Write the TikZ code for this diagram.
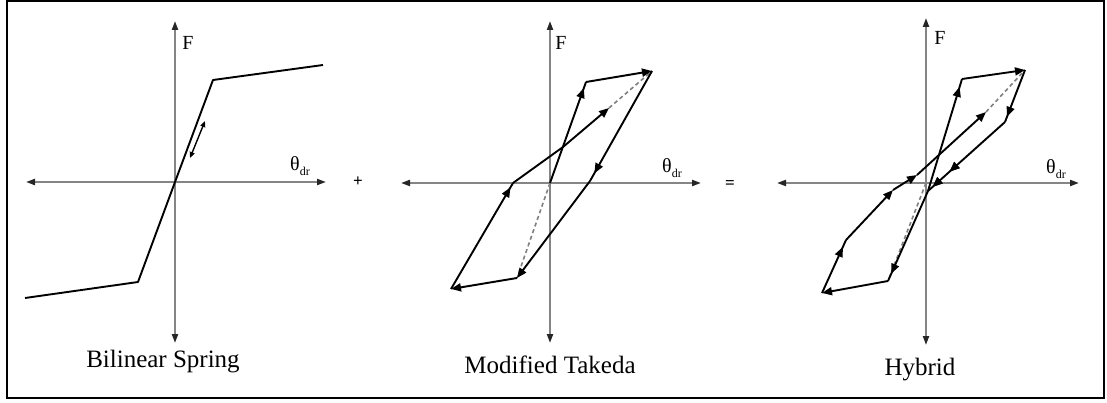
\documentclass[tikz,border=0pt]{standalone}
\usepackage{fontspec}
\setmainfont{Liberation Serif}
\usetikzlibrary{arrows.meta,decorations.markings}
\begin{document}
\begin{tikzpicture}[x=1pt,y=-1pt,
  axis/.style={draw=black!48,line width=2pt,
    {Triangle[length=9pt,width=6pt,color=black!85]}-{Triangle[length=9pt,width=6pt,color=black!85]}},
  curve/.style={draw=black,line width=1.9pt,line join=round},
  dashline/.style={draw=black!50,line width=1.6pt,dash pattern=on 4pt off 3pt},
  endtip/.style={-{Triangle[length=10pt,width=8pt]}},
  midarr/.style={postaction={decorate},decoration={markings,
    mark=at position #1 with {\arrow{Triangle[length=10pt,width=8pt]}}}},
  flab/.style={font=\fontsize{20}{20}\selectfont,inner sep=0pt},
  tlab/.style={inner sep=0pt},
  title/.style={font=\fontsize{25}{25}\selectfont,inner sep=0pt,anchor=base},
  op/.style={font=\fontsize{17}{17}\selectfont\bfseries,inner sep=0pt}
]
\useasboundingbox (0,0) rectangle (1107,403);
\fill[white] (0,0) rectangle (1107,403);
\draw[line width=2pt] (7,1.5) rectangle (1104,398);

% ---------------- Panel 1: Bilinear Spring ----------------
\coordinate (p1t) at (175,21);
\coordinate (p1b) at (175,343);
\coordinate (p1l) at (26,182);
\coordinate (p1r) at (326,182);
\draw[axis] (p1t) -- (p1b);
\draw[axis] (p1l) -- (p1r);
\coordinate (b1) at (25,298);
\coordinate (b2) at (138,282);
\coordinate (b0) at (175,182);
\coordinate (b3) at (213,80);
\coordinate (b4) at (323,65);
\draw[curve] (b1) -- (b2) -- (b0) -- (b3) -- (b4);
\coordinate (d1) at (190,158);
\coordinate (d2) at (205,121);
\draw[line width=1.4pt,{Triangle[length=6pt,width=5pt]}-{Triangle[length=6pt,width=5pt]}] (d1) -- (d2);
\node[flab] (F1) at (188,43) {F};
\node[tlab] (th1) at (300,166) {\fontsize{20}{20}\selectfont θ\raisebox{-5pt}{\fontsize{12}{12}\selectfont dr}};
\node[title] (t1) at (163,367) {Bilinear Spring};
\node[op] (plus) at (358,182) {+};

% ---------------- Panel 2: Modified Takeda ----------------
\coordinate (p2t) at (550,21);
\coordinate (p2b) at (550,343);
\coordinate (p2l) at (401,183);
\coordinate (p2r) at (701,183);
\draw[axis] (p2t) -- (p2b);
\draw[axis] (p2l) -- (p2r);
\coordinate (mO) at (550,183);
\coordinate (mA) at (586,82);
\coordinate (mB) at (652,71);
\coordinate (mU) at (590,181);
\coordinate (mD) at (517,278);
\coordinate (mC) at (451,289);
\coordinate (mR1) at (513,183);
\coordinate (mR2) at (563,147);
\coordinate (mR3) at (609,108);
\draw[dashline] (mO) -- (mD);
\draw[dashline] (mR3) -- (mB);
\draw[curve,midarr=0.94] (mO) -- (mA);
\draw[curve,endtip] (mA) -- (mB);
\draw[curve,midarr=0.93] (mB) -- (mU);
\draw[curve,endtip] (mU) -- (mD);
\draw[curve,endtip] (mD) -- (mC);
\draw[curve,midarr=0.96] (mC) -- (mR1);
\draw[curve,endtip] (mR1) -- (mR2) -- (mR3);
\node[flab] (F2) at (561,43) {F};
\node[tlab] (th2) at (672,168) {\fontsize{20}{20}\selectfont θ\raisebox{-5pt}{\fontsize{12}{12}\selectfont dr}};
\node[title] (t2) at (550,373) {Modified Takeda};
\node[op] (eq) at (730,185) {=};

% ---------------- Panel 3: Hybrid ----------------
\coordinate (p3t) at (926,18);
\coordinate (p3b) at (926,345);
\coordinate (p3l) at (777,183);
\coordinate (p3r) at (1079,183);
\draw[axis] (p3t) -- (p3b);
\draw[axis] (p3l) -- (p3r);
\coordinate (hO) at (926,183);
\coordinate (hA) at (962,79);
\coordinate (hB) at (1025,70);
\coordinate (hU1) at (1005,122);
\coordinate (hU2) at (928,191);
\coordinate (hD) at (888,281);
\coordinate (hC) at (822,293);
\coordinate (hR1) at (846,240);
\coordinate (hR2) at (893,190);
\coordinate (hR3) at (917,175);
\coordinate (hR4) at (986,112);
\draw[dashline] (hO) -- (hD);
\draw[dashline] (hR4) -- (hB);
\draw[curve,midarr=0.93] (hU2) -- (hA);
\draw[curve,endtip] (hA) -- (hB);
\draw[curve,midarr=0.9] (hB) -- (hU1);
\draw[curve,midarr=0.72,midarr=0.94] (hU1) -- (hU2);
\draw[curve,midarr=0.92] (hU2) -- (hD);
\draw[curve,endtip] (hD) -- (hC);
\draw[curve,midarr=0.87] (hC) -- (hR1);
\draw[curve,endtip] (hR1) -- (hR2);
\draw[curve,endtip] (hR2) -- (hR3);
\draw[curve,endtip] (hR3) -- (hR4);
\node[flab] (F3) at (940,38) {F};
\node[tlab] (th3) at (1056,169) {\fontsize{20}{20}\selectfont θ\raisebox{-5pt}{\fontsize{12}{12}\selectfont dr}};
\node[title] (t3) at (920,375) {Hybrid};
\end{tikzpicture}
\end{document}
